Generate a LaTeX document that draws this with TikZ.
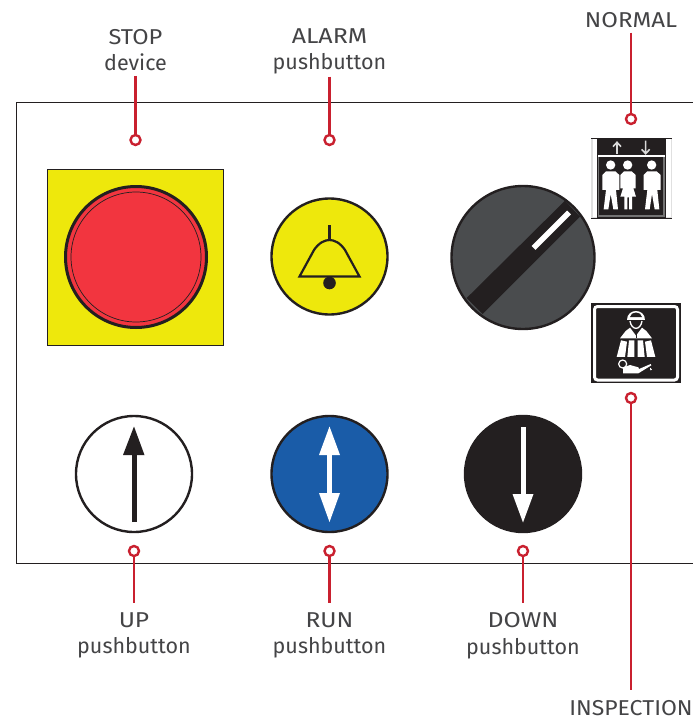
\documentclass[tikz,border=0pt]{standalone}
\usepackage{fontspec}
\setmainfont{Fira Sans}
\definecolor{linered}{HTML}{C9202F}
\definecolor{ink}{HTML}{231F20}
\definecolor{signyellow}{HTML}{EEE80C}
\definecolor{stopred}{HTML}{F2353F}
\definecolor{knob}{HTML}{4A4C4E}
\definecolor{runblue}{HTML}{1A5CA8}
\definecolor{txt}{HTML}{444446}
\newcommand\lstrut{\rule[-3pt]{0pt}{16pt}}
\newcommand\capw[2]{{\addfontfeatures{FakeStretch=#1}#2}}
\tikzset{
  lbl/.style={align=center,font=\fontsize{21.5}{26.5}\selectfont,text=txt,inner xsep=2pt,inner ysep=2pt},
  lblbelow/.style={lbl,inner ysep=9.5pt},
  dot/.style={circle,draw=linered,fill=white,line width=2.4pt,minimum size=10pt,inner sep=0pt},
  lead/.style={draw=linered,line width=2.4pt},
  btn/.style={circle,draw=ink,line width=2.4pt,minimum size=116pt,inner sep=0pt},
  knobshape/.style={circle,draw=ink,line width=2.4pt,minimum size=143pt,inner sep=0pt,fill=knob}
}
\begin{document}
\begin{tikzpicture}[x=1pt,y=-1pt]
\useasboundingbox (0,0) rectangle (693,720);
\fill[white] (0,0) rectangle (693,720);
% panel
\draw[ink,line width=0.8pt] (693,102.5) -- (16.5,102.5) -- (16.5,563) -- (693,563);
% stop device
\node[draw=ink,line width=0.8pt,fill=signyellow,minimum size=176pt,inner sep=0pt] (stopsq) at (135.8,257.5) {};
\node[circle,draw=ink,line width=3pt,fill=stopred,minimum size=141pt,inner sep=0pt] (stopbtn) at (136,257) {};
\draw[ink,line width=0.7pt] (stopbtn.center) circle[radius=65];
% alarm
\node[btn,fill=signyellow] (alarm) at (329.5,256.5) {};
\draw[ink,line width=2.2pt] (329.5,225) -- (329.5,240);
\draw[ink,line width=2.2pt,line join=miter] (299.5,276.5) -- (314,250) .. controls (319,242.5) and (325,240) .. (329.5,240) .. controls (334,240) and (340,242.5) .. (345,250) -- (359.5,276.5) -- cycle;
\fill[ink] (329.5,283) circle[radius=6.3];
% selector
\node[knobshape] (selector) at (523,257.5) {};
\fill[ink] (466.7,298) -- (482.7,314) -- (580,216.7) -- (565,200.7) -- cycle;
\draw[white,line width=5.5pt] (533.5,248) -- (569,212.5);
% up
\node[btn,fill=white] (upbtn) at (134,474) {};
\draw[ink,line width=5pt] (134,522) -- (134,450);
\fill[ink] (134,426.5) -- (144.5,455) -- (123,455) -- cycle;
% run
\node[btn,fill=runblue] (runbtn) at (329.5,474) {};
\draw[white,line width=5pt] (329.5,450) -- (329.5,500);
\fill[white] (329.5,426.5) -- (340,455) -- (319,455) -- cycle;
\fill[white] (329.5,522) -- (340,493) -- (319,493) -- cycle;
% down
\node[btn,fill=ink] (downbtn) at (523,474) {};
\draw[white,line width=5pt] (523,427) -- (523,500);
\fill[white] (523,522.5) -- (533.5,494) -- (512.5,494) -- cycle;
% normal icon
\begin{scope}[shift={(580,120)},x=0.3333pt,y=-0.3333pt]
  \fill[black!12] (34,55) rectangle (276,295);
  \fill[white] (38,58) rectangle (272,292);
  \fill[ink] (52,55) rectangle (258,297);
  \draw[black!55,line width=1.2pt] (56,107) rectangle (252,288);
  \draw[ink,line width=0.6pt] (34,55) -- (276,55) (34,295) -- (276,295);
  \draw[white,line width=1.5pt] (54,108) -- (254,108);
  \draw[white!85!black,line width=1.6pt] (111,102) -- (111,68) (99,80) -- (111,67) -- (123,80);
  \draw[white!85!black,line width=1.6pt] (197,62) -- (197,100) (185,88) -- (197,101) -- (209,88);
  \fill[white] (92,135) circle[radius=14] (143,135) circle[radius=14] (215,135) circle[radius=14];
  \fill[white] (67,165) -- (78,154) -- (106,154) -- (118,165) -- (118,210) -- (108,210) -- (114,268) -- (100,268) -- (92,222) -- (85,268) -- (71,268) -- (78,210) -- (67,210) -- cycle;
  \fill[white] (121,165) -- (132,154) -- (155,154) -- (167,165) -- (167,205) -- (160,205) -- (168,230) -- (156,230) -- (156,268) -- (147,268) -- (147,232) -- (142,232) -- (142,268) -- (133,268) -- (133,230) -- (121,230) -- (129,205) -- (121,205) -- cycle;
  \fill[white] (191,165) -- (202,154) -- (230,154) -- (242,165) -- (242,210) -- (232,210) -- (238,268) -- (224,268) -- (216,222) -- (209,268) -- (195,268) -- (202,210) -- (191,210) -- cycle;
\end{scope}
% inspection icon
\fill[ink] (591,302.5) rectangle (681,383);
\draw[white,line width=3pt,rounded corners=3pt] (594.5,306.5) rectangle (677.5,380);
\begin{scope}[shift={(610,305)},x=0.3333pt,y=-0.3333pt]
  % helmet
  \fill[white] (52,46) .. controls (52,8) and (104,8) .. (104,46) -- cycle;
  \fill[ink] (60,36) .. controls (62,18) and (94,18) .. (96,36) -- cycle;
  \draw[white,line width=1.3pt] (60,48) .. controls (62,62) and (70,70) .. (78,70) .. controls (86,70) and (94,62) .. (96,48);
  % upper body
  \fill[white] (30,100) -- (47,78) -- (60,68) -- (78,92) -- (96,68) -- (109,78) -- (126,100) -- cycle;
  \draw[ink,line width=0.8pt] (78,88) -- (78,100);
  % lower body
  \fill[white] (33,106) -- (20,156) -- (45,156) -- (51,110) -- cycle;
  \fill[white] (57,106) -- (52,156) -- (73,156) -- (73,106) -- cycle;
  \fill[white] (83,106) -- (83,156) -- (104,156) -- (99,106) -- cycle;
  \fill[white] (123,106) -- (136,156) -- (111,156) -- (105,110) -- cycle;
  % oil can
  \draw[white,line width=1.2pt] (38,177) circle[radius=12];
  \fill[white] (39,187) -- (60,180) -- (85,187) -- (87,192) -- (122,177) -- (124,181) -- (85,205) -- (39,205) -- cycle;
  \fill[white] (121,188) .. controls (117,196) and (126,200) .. (126,194) -- cycle;
\end{scope}
% dots and labels
\node[dot] (stopdot) at (135.5,140) {};
\node[dot] (alarmdot) at (329.5,140) {};
\node[dot] (normaldot) at (631,119) {};
\node[dot] (inspdot) at (631,398) {};
\node[dot] (updot) at (134,551) {};
\node[dot] (rundot) at (329.5,551) {};
\node[dot] (downdot) at (523,551) {};
\node[lbl] (stoplbl) at (135.5,51.5) {\lstrut\capw{1.1}{STOP}\\\lstrut device};
\node[lbl] (alarmlbl) at (329.5,51.5) {\lstrut\capw{1.16}{ALARM}\\\lstrut pushbutton};
\node[lbl] (normallbl) at (631,21.5) {\lstrut\capw{1.12}{NORMAL}};
\node[lblbelow] (insplbl) at (631,709) {\lstrut\capw{1.07}{INSPECTION}};
\node[lblbelow] (uplbl) at (134,635.5) {\lstrut\capw{1.14}{UP}\\\lstrut pushbutton};
\node[lblbelow] (runlbl) at (329.5,635.5) {\lstrut\capw{1.14}{RUN}\\\lstrut pushbutton};
\node[lblbelow] (downlbl) at (523,635.5) {\lstrut\capw{1.16}{DOWN}\\\lstrut pushbutton};
\draw[lead] (stoplbl.south -| stopdot) -- (stopdot);
\draw[lead] (alarmlbl.south -| alarmdot) -- (alarmdot);
\draw[lead] (normallbl.south -| normaldot) -- (normaldot);
\draw[lead] (inspdot) -- (insplbl.north -| inspdot);
\draw[lead] (updot) -- (uplbl.north -| updot);
\draw[lead] (rundot) -- (runlbl.north -| rundot);
\draw[lead] (downdot) -- (downlbl.north -| downdot);
\end{tikzpicture}
\end{document}
